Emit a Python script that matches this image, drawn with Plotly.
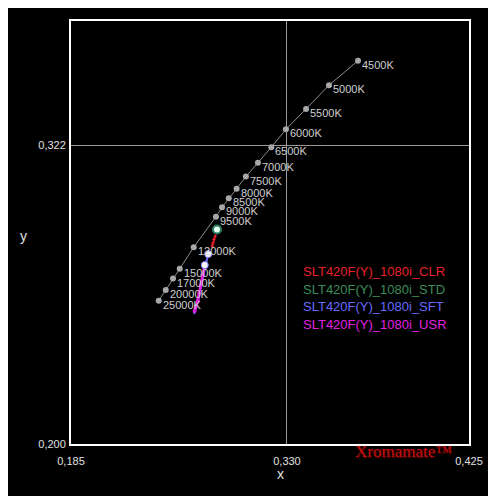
import plotly.graph_objects as go

# ---- data ----
locus_labels = ["4500K", "5000K", "5500K", "6000K", "6500K", "7000K", "7500K", "8000K",
                "8500K", "9000K", "9500K", "12000K", "15000K", "17000K", "20000K", "25000K"]
locus_x = [0.3777, 0.3582, 0.3428, 0.3293, 0.3195, 0.3105, 0.3024, 0.2962,
           0.2909, 0.2864, 0.2823, 0.2674, 0.2580, 0.2535, 0.2486, 0.2439]
locus_y = [0.3564, 0.3464, 0.3367, 0.3284, 0.3211, 0.3148, 0.3091, 0.3042,
           0.3003, 0.2966, 0.2927, 0.2803, 0.2715, 0.2675, 0.2628, 0.2585]

series_names = ["SLT420F(Y)_1080i_CLR", "SLT420F(Y)_1080i_STD",
                "SLT420F(Y)_1080i_SFT", "SLT420F(Y)_1080i_USR"]
series_colors = ["#e8202a", "#3c8c5a", "#6a6aff", "#e020e0"]

clr_x = [0.2818, 0.2810, 0.2803, 0.2798]
clr_y = [0.2849, 0.2835, 0.2820, 0.2808]
std_x = [0.2830]
std_y = [0.2875]
sft_x = [0.2771, 0.2751, 0.2727, 0.2707, 0.2690, 0.2676]
sft_y = [0.2775, 0.2718, 0.2661, 0.2604, 0.2563, 0.2530]
usr_x = [0.2748, 0.2734, 0.2721, 0.2711, 0.2701, 0.2687, 0.2680]
usr_y = [0.2730, 0.2690, 0.2649, 0.2616, 0.2583, 0.2559, 0.2543]

x_tickvals = [0.185, 0.330, 0.4522]
x_ticktext = ["0,185", "0,330", "0,425"]
y_tickvals = [0.200, 0.322]
y_ticktext = ["0,200", "0,322"]
x_range = [0.185, 0.4522]
y_range = [0.200, 0.3726]

FONT = "Liberation Sans"

fig = go.Figure()

# reference locus
fig.add_trace(go.Scatter(
    x=locus_x, y=locus_y, mode="lines+markers",
    line=dict(color="#8c8c8c", width=1),
    marker=dict(color="#a8a8a8", size=6),
    hoverinfo="skip", showlegend=False))

for lx, ly, lt in zip(locus_x, locus_y, locus_labels):
    fig.add_annotation(x=lx, y=ly, text=lt, showarrow=False, xanchor="left",
                       xshift=2, yshift=-4,
                       font=dict(family=FONT, size=11, color="#cfcfcf"))

# measured series
fig.add_trace(go.Scatter(x=clr_x, y=clr_y, mode="lines+markers",
                         line=dict(color="#b01818", width=2),
                         marker=dict(color=series_colors[0], size=3),
                         name=series_names[0], showlegend=False))
fig.add_trace(go.Scatter(x=sft_x, y=sft_y, mode="lines",
                         line=dict(color=series_colors[2], width=2),
                         name=series_names[2], showlegend=False))
fig.add_trace(go.Scatter(x=usr_x, y=usr_y, mode="lines+markers",
                         line=dict(color=series_colors[3], width=3),
                         marker=dict(color=series_colors[3], size=4),
                         name=series_names[3], showlegend=False))
fig.add_trace(go.Scatter(x=std_x, y=std_y, mode="markers",
                         marker=dict(color="#e8fff0", size=8,
                                     line=dict(color="#2a8060", width=2)),
                         name=series_names[1], showlegend=False))
# start points of SFT and USR
fig.add_trace(go.Scatter(x=[sft_x[0], usr_x[0]], y=[sft_y[0], usr_y[0]], mode="markers",
                         marker=dict(color="#ffffff", size=7,
                                     line=dict(color="#8080ff", width=1)),
                         hoverinfo="skip", showlegend=False))

# legend as colored text
for i, (nm, col) in enumerate(zip(series_names, series_colors)):
    fig.add_annotation(xref="paper", yref="paper", x=0.5771, y=0.4073 - i * 0.0414,
                       text=nm, showarrow=False, xanchor="left", yanchor="middle",
                       font=dict(family=FONT, size=13, color=col))

# axis titles
fig.add_annotation(xref="paper", yref="paper", x=-0.1206, y=0.4917, text="y",
                   showarrow=False, xanchor="center", yanchor="middle",
                   font=dict(family=FONT, size=14, color="#e0e0e0"))
fig.add_annotation(xref="paper", yref="paper", x=0.5276, y=-0.0709, text="x",
                   showarrow=False, xanchor="center", yanchor="middle",
                   font=dict(family=FONT, size=14, color="#e0e0e0"))

# logo
fig.add_annotation(xref="paper", yref="paper", x=0.7085, y=-0.0189, text="Xromamate\u2122",
                   showarrow=False, xanchor="left", yanchor="middle",
                   font=dict(family="Liberation Serif", size=17, color="#c41010",
                             shadow="1px 1px 2px #700000"))

fig.update_layout(
    width=488, height=488,
    margin=dict(l=63, r=27, t=13, b=52),
    paper_bgcolor="#000000", plot_bgcolor="#000000",
    showlegend=False,
    xaxis=dict(range=x_range, tickvals=x_tickvals, ticktext=x_ticktext,
               showgrid=True, gridcolor="#9a9a9a", gridwidth=1, zeroline=False,
               showline=True, linecolor="#ffffff", linewidth=2, mirror=True,
               ticks="", ticklabelstandoff=6,
               tickfont=dict(family=FONT, size=11, color="#e0e0e0")),
    yaxis=dict(range=y_range, tickvals=y_tickvals, ticktext=y_ticktext,
               showgrid=True, gridcolor="#9a9a9a", gridwidth=1, zeroline=False,
               showline=True, linecolor="#ffffff", linewidth=2, mirror=True,
               ticks="", ticklabelstandoff=1,
               tickfont=dict(family=FONT, size=11, color="#e0e0e0")),
)

fig.write_html("out.html")
